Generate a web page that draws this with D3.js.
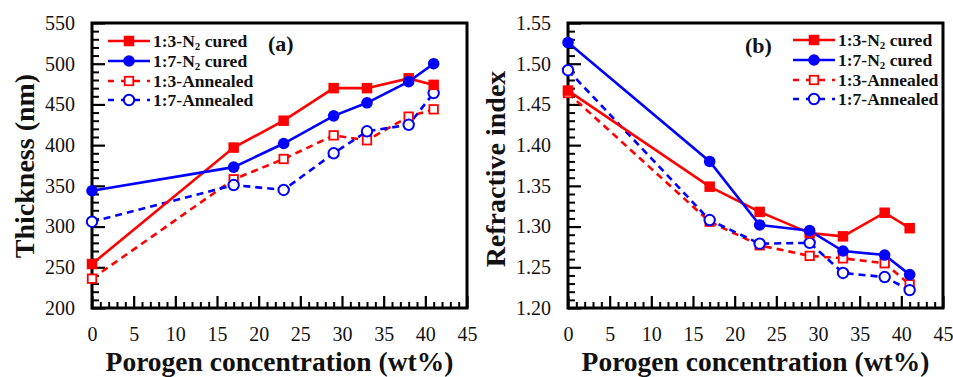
<!DOCTYPE html>
<html><head><meta charset="utf-8">
<script src="https://cdn.jsdelivr.net/npm/d3@7"></script>
</head>
<body style="margin:0;background:#fff">
<svg id="chart" width="953" height="377" font-family="Liberation Serif" style="display:block;font-family:'Liberation Serif'"></svg>
<script>
// ---- data ----
const porogen = [0, 17, 23, 29, 33, 38, 41];
const seriesNames = ["1:3-N2 cured", "1:7-N2 cured", "1:3-Annealed", "1:7-Annealed"];
const thick13Cured    = [254, 397, 430, 470, 470, 482, 474];
const thick17Cured    = [344, 373, 402, 436, 452, 478, 500];
const thick13Annealed = [236, 358, 383, 412, 406, 435, 444];
const thick17Annealed = [306, 351, 345, 390, 417, 425, 464];
const ri13Cured    = [1.467, 1.349, 1.318, 1.292, 1.288, 1.317, 1.298];
const ri17Cured    = [1.526, 1.380, 1.302, 1.295, 1.270, 1.265, 1.241];
const ri13Annealed = [1.464, 1.306, 1.277, 1.264, 1.261, 1.255, 1.229];
const ri17Annealed = [1.492, 1.308, 1.279, 1.280, 1.243, 1.238, 1.222];
const xTicks = [0, 5, 10, 15, 20, 25, 30, 35, 40, 45];
const thickTicks = [200, 250, 300, 350, 400, 450, 500, 550];
const riTicks = [1.20, 1.25, 1.30, 1.35, 1.40, 1.45, 1.50, 1.55];
const xTitle = "Porogen concentration (wt%)";
const yTitleA = "Thickness (nm)";
const yTitleB = "Refractive index";

const FONT = "Liberation Serif";

const styles = [
  {color:"#ff0000", marker:"square", dashed:false},
  {color:"#0000ff", marker:"circle", dashed:false},
  {color:"#ff0000", marker:"square", dashed:true},
  {color:"#0000ff", marker:"circle", dashed:true}
];

const svg = d3.select("#chart");

function setFont(sel) {
  return sel.attr("font-family", FONT).style("font-family", FONT);
}

function drawMarker(g, st, x, y) {
  if (st.marker === "square") {
    const s = st.dashed ? 8.5 : 10.5;
    g.append("rect").attr("x", x - s/2).attr("y", y - s/2).attr("width", s).attr("height", s)
      .attr("fill", st.dashed ? "#fff" : st.color).attr("stroke", st.color).attr("stroke-width", st.dashed ? 1.8 : 0);
  } else {
    g.append("circle").attr("cx", x).attr("cy", y).attr("r", st.dashed ? 5.2 : 5.8)
      .attr("fill", st.dashed ? "#fff" : st.color).attr("stroke", st.color).attr("stroke-width", st.dashed ? 2 : 0);
  }
}

function panel(opt) {
  const x = d3.scaleLinear().domain([0, 45]).range([opt.left, opt.right]);
  const y = d3.scaleLinear().domain(opt.yDomain).range([opt.bottom, opt.top]);
  const g = svg.append("g");

  // minor ticks
  const xMinor = d3.range(0, 46, 1).filter(v => v % 5 !== 0);
  g.append("g").attr("transform", `translate(0,${opt.bottom})`)
    .call(d3.axisBottom(x).tickValues(xMinor).tickSize(-6).tickFormat(""))
    .call(a => a.select(".domain").remove())
    .call(a => a.selectAll("line").attr("stroke-width", 2));
  const yMinor = d3.range(0, 36).map(i => opt.yDomain[0] + i * opt.yMinorStep).filter((v, i) => i % 5 !== 0);
  g.append("g").attr("transform", `translate(${opt.left},0)`)
    .call(d3.axisLeft(y).tickValues(yMinor).tickSize(-7).tickFormat(""))
    .call(a => a.select(".domain").remove())
    .call(a => a.selectAll("line").attr("stroke-width", 2));

  // major ticks
  g.append("g").attr("transform", `translate(0,${opt.bottom})`)
    .call(d3.axisBottom(x).tickValues(xTicks).tickSize(-12).tickPadding(19).tickFormat(d3.format("d")))
    .call(a => setFont(a).attr("font-size", 20))
    .call(a => a.select(".domain").remove())
    .call(a => a.selectAll("line").attr("stroke-width", 2.2))
    .call(a => setFont(a.selectAll("text")).attr("font-size", 20).attr("fill", "#111"));
  g.append("g").attr("transform", `translate(${opt.left},0)`)
    .call(d3.axisLeft(y).tickValues(opt.yTicks).tickSize(-13).tickPadding(17).tickFormat(opt.yFormat))
    .call(a => setFont(a).attr("font-size", 20))
    .call(a => a.select(".domain").remove())
    .call(a => a.selectAll("line").attr("stroke-width", 2.2))
    .call(a => setFont(a.selectAll("text")).attr("font-size", 20).attr("fill", "#111"));

  // frame
  g.append("rect").attr("x", opt.left).attr("y", opt.top)
    .attr("width", opt.right - opt.left).attr("height", opt.bottom - opt.top)
    .attr("fill", "none").attr("stroke", "#000").attr("stroke-width", 3);

  // series
  const order = [2, 3, 0, 1];
  const line = d3.line().x((d, i) => x(porogen[i])).y(d => y(d));
  order.forEach(si => {
    const st = styles[si];
    g.append("path").datum(opt.series[si]).attr("d", line)
      .attr("fill", "none").attr("stroke", st.color).attr("stroke-width", 2.6)
      .attr("stroke-dasharray", st.dashed ? "7,5" : null);
  });
  order.forEach(si => {
    const st = styles[si];
    opt.series[si].forEach((v, i) => drawMarker(g, st, x(porogen[i]), y(v)));
  });

  // legend
  const lg = g.append("g");
  seriesNames.forEach((name, i) => {
    const st = styles[i];
    const ly = opt.legY[i];
    lg.append("line").attr("x1", opt.legX).attr("x2", opt.legX + 42).attr("y1", ly).attr("y2", ly)
      .attr("stroke", st.color).attr("stroke-width", 2.6)
      .attr("stroke-dasharray", st.dashed ? "6,7" : null);
    drawMarker(lg, st, opt.legX + 21, ly);
    const t = setFont(lg.append("text")).attr("x", opt.legX + 45).attr("y", ly + 6)
      .attr("font-size", 17.5).attr("font-weight", "bold").attr("fill", "#111");
    const m = name.match(/^(.*N)2(.*)$/);
    if (m) {
      t.append("tspan").text(m[1]);
      t.append("tspan").attr("font-size", 11).attr("dy", 3).text("2");
      t.append("tspan").attr("dy", -3).text(m[2]);
    } else {
      t.text(name);
    }
  });

  // panel label
  setFont(g.append("text")).attr("x", opt.labX).attr("y", opt.labY).attr("font-size", 22)
    .attr("font-weight", "bold").attr("fill", "#111").text(opt.label);

  // axis titles
  setFont(g.append("text")).attr("x", (opt.left + opt.right) / 2).attr("y", 371)
    .attr("text-anchor", "middle").attr("font-size", 27.5).attr("font-weight", "bold")
    .attr("fill", "#111").text(xTitle);
  setFont(g.append("text")).attr("transform", `translate(${opt.yTitleX},${opt.yTitleY}) rotate(-90)`)
    .attr("text-anchor", "middle").attr("font-size", 28).attr("font-weight", "bold")
    .attr("fill", "#111").text(opt.yTitle);
}

panel({
  left: 92, right: 467, top: 23, bottom: 308,
  yDomain: [200, 550], yMinorStep: 10, yTicks: thickTicks, yFormat: d3.format("d"),
  series: [thick13Cured, thick17Cured, thick13Annealed, thick17Annealed],
  legX: 108, legY: [41, 61, 81, 100],
  label: "(a)", labX: 268, labY: 51,
  yTitle: yTitleA, yTitleX: 34, yTitleY: 166
});
panel({
  left: 568, right: 943, top: 23, bottom: 308,
  yDomain: [1.20, 1.55], yMinorStep: 0.01, yTicks: riTicks, yFormat: d3.format(".2f"),
  series: [ri13Cured, ri17Cured, ri13Annealed, ri17Annealed],
  legX: 793, legY: [40, 60, 80, 99],
  label: "(b)", labX: 745, labY: 53,
  yTitle: yTitleB, yTitleX: 505, yTitleY: 169
});
</script>
</body></html>
